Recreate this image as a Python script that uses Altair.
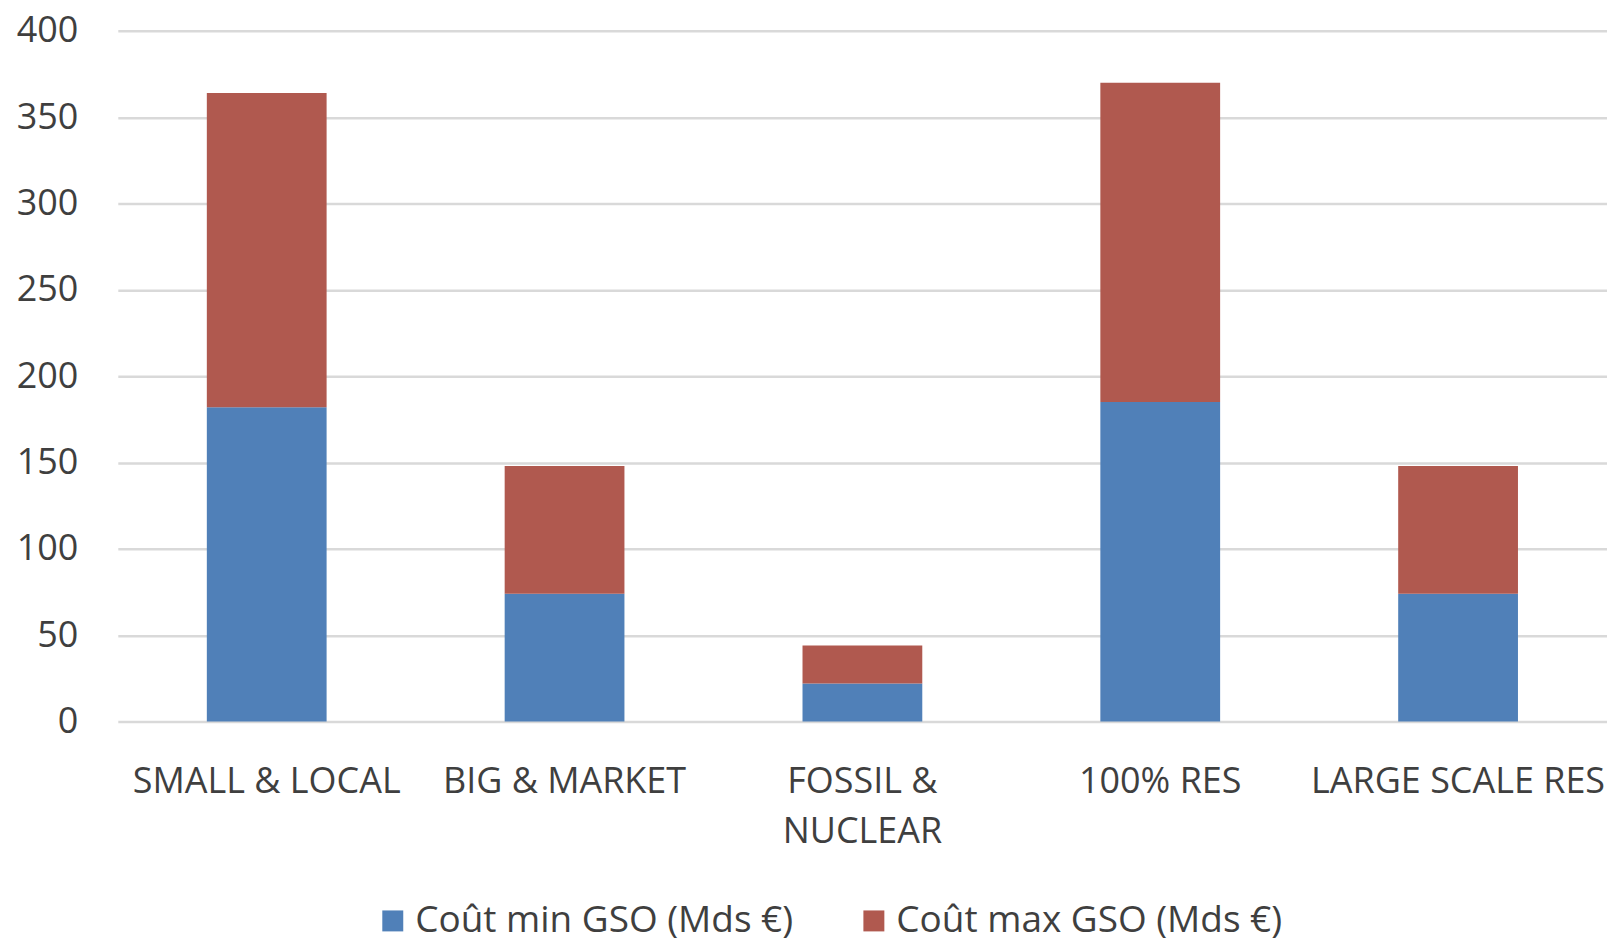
import altair as alt
import pandas as pd

categories = ["SMALL & LOCAL", "BIG & MARKET", "FOSSIL & NUCLEAR", "100% RES", "LARGE SCALE RES"]
cout_min = [182, 74, 22, 185, 74]
cout_max = [182, 74, 22, 185, 74]
series = ["Coût min GSO (Mds €)", "Coût max GSO (Mds €)"]
colors = ["#5080B8", "#B0594F"]

rows = []
for c, a, b in zip(categories, cout_min, cout_max):
    rows.append({"cat": c, "serie": series[0], "val": a, "ord": 0})
    rows.append({"cat": c, "serie": series[1], "val": b, "ord": 1})
df = pd.DataFrame(rows)

FONT = "Open Sans"
TXT = "#3F3F3F"
FS = 36

chart = alt.Chart(df).mark_bar(size=120).encode(
    x=alt.X("cat:N", sort=categories, title=None,
            scale=alt.Scale(paddingInner=0.6, paddingOuter=0.3),
            axis=alt.Axis(labelAngle=0, domain=False, ticks=False, labelPadding=43,
                          labelFontSize=FS, labelColor=TXT, labelFont=FONT,
                          labelLineHeight=50, labelBaseline="top", labelLimit=600,
                          labelOverlap=False,
                          labelExpr="datum.label == 'FOSSIL & NUCLEAR' ? ['FOSSIL &', 'NUCLEAR'] : datum.label")),
    y=alt.Y("val:Q", stack="zero", title=None,
            scale=alt.Scale(domain=[0, 400], nice=False),
            axis=alt.Axis(values=[0, 50, 100, 150, 200, 250, 300, 350, 400],
                          domain=False, ticks=False, labelPadding=40,
                          labelFontSize=FS, labelColor=TXT, labelFont=FONT,
                          gridColor="#D9D9D9", gridWidth=2.5)),
    color=alt.Color("serie:N", sort=series, title=None,
                    scale=alt.Scale(domain=series, range=colors),
                    legend=alt.Legend(orient="none", legendX=257, legendY=873,
                                      direction="horizontal", symbolType="square",
                                      symbolSize=441, symbolStrokeWidth=0,
                                      labelFontSize=37, labelColor=TXT, labelFont=FONT,
                                      labelOffset=4, columnPadding=62, labelLimit=600)),
    order=alt.Order("ord:Q", sort="ascending"),
).properties(
    width=1492, height=692,
    autosize=alt.AutoSizeParams(type="none"),
    padding={"left": 110, "top": 22, "right": 0, "bottom": 228},
).configure_view(stroke=None)

chart.save("out.html", embed_options={"renderer": "svg", "actions": False})
